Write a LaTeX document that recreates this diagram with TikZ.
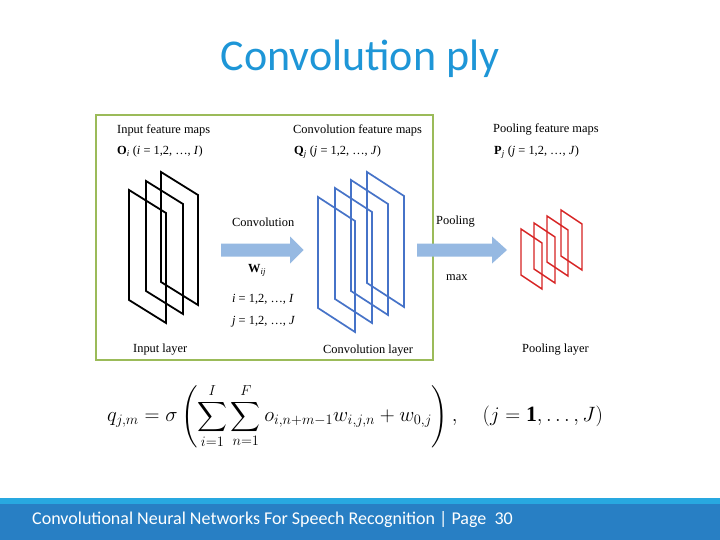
\documentclass[tikz,border=0pt]{standalone}
\usepackage{fontspec}
\usepackage{amsmath}
\setmainfont{Liberation Serif}
\newfontfamily\calib{Carlito}
\definecolor{titleblue}{RGB}{30,150,215}
\definecolor{boxgreen}{RGB}{155,187,89}
\definecolor{arrowblue}{RGB}{150,185,226}
\definecolor{framblue}{RGB}{70,115,200}
\definecolor{framred}{RGB}{215,35,35}
\definecolor{footlight}{RGB}{40,168,224}
\definecolor{footdark}{RGB}{40,127,196}
\tikzset{
  lbl/.style={anchor=west, inner sep=0pt, font=\fontsize{12.4}{14}\selectfont},
  blockarrow/.style={fill=arrowblue, draw=none},
  blackframe/.style={draw=black, line width=1.8pt, line join=miter},
  blueframe/.style={draw=framblue, line width=1.7pt, line join=miter},
  redframe/.style={draw=framred, line width=1.4pt, line join=miter},
}
\newcommand{\frm}[6]{% x y w slant h style
  \draw[#6] (#1,#2) -- ++(#3,#4) -- ++(0,#5) -- ++(-#3,-#4) -- cycle;}
\begin{document}
\begin{tikzpicture}[x=1pt,y=-1pt]
\useasboundingbox (0,0) rectangle (720,540);
\fill[white] (0,0) rectangle (720,540);
% title
\node[font=\calib\fontsize{44}{48}\selectfont, text=titleblue] (title) at (360,59) {Convolution ply};
% green box
\draw[boxgreen, line width=2.6pt] (96,115) rectangle (433,360);
% black frames
\frm{161}{172}{37}{23}{110}{blackframe}
\frm{146}{181}{37}{23}{110}{blackframe}
\frm{129}{190}{37}{23}{110}{blackframe}
% blue frames
\frm{367}{172}{37}{24}{111}{blueframe}
\frm{351}{180}{37}{24}{111}{blueframe}
\frm{335}{188}{37}{24}{111}{blueframe}
\frm{318}{197}{37}{24}{111}{blueframe}
% red frames
\frm{561}{210}{21}{14}{46}{redframe}
\frm{547}{216}{21}{14}{46}{redframe}
\frm{534}{223}{21}{14}{46}{redframe}
\frm{521}{229}{21}{14}{46}{redframe}
% block arrows
\fill[blockarrow] (221,243.5) -- (290,243.5) -- (290,236.5) -- (303.5,250) -- (290,263.5) -- (290,256.5) -- (221,256.5) -- cycle;
\fill[blockarrow] (417,243.5) -- (492,243.5) -- (492,236.5) -- (507,250) -- (492,263.5) -- (492,256.5) -- (417,256.5) -- cycle;
% labels
\node[lbl] (inmaps) at (117,130) {Input feature maps};
\node[lbl] (inidx) at (117,152) {\textbf{O}\textsubscript{\textit{i}} (\textit{i} = 1,2, …, \textit{I})};
\node[lbl] (cvmaps) at (293,130) {Convolution feature maps};
\node[lbl] (cvidx) at (294,152) {\textbf{Q}\textsubscript{\textit{j}} (\textit{j} = 1,2, …, \textit{J})};
\node[lbl] (plmaps) at (493,129) {Pooling feature maps};
\node[lbl] (plidx) at (494,152) {\textbf{P}\textsubscript{\textit{j}} (\textit{j} = 1,2, …, \textit{J})};
\node[lbl] (conv) at (232,222) {Convolution};
\node[lbl] (wij) at (248,270) {\textbf{W}\textsubscript{\textit{ij}}};
\node[lbl] (irange) at (232,299) {\textit{i} = 1,2, …, \textit{I}};
\node[lbl] (jrange) at (232,322) {\textit{j} = 1,2, …, \textit{J}};
\node[lbl] (inlayer) at (133,350) {Input layer};
\node[lbl] (cvlayer) at (323,351) {Convolution layer};
\node[lbl] (pool) at (436,222) {Pooling};
\node[lbl] (max) at (446,278) {max};
\node[lbl] (pllayer) at (522,350) {Pooling layer};
% equation
\node[anchor=west, inner sep=0pt, font=\fontsize{21.8}{24}\selectfont] (eq) at (107,416)
  {$\displaystyle q_{j,m} = \sigma\left(\sum_{i=1}^{I}\sum_{n=1}^{F} o_{i,n+m-1}w_{i,j,n} + w_{0,j}\right),\quad (j=\mathbf{1},\ldots,J)$};
% footer
\fill[footdark] (0,503) rectangle (720,540);
\fill[footlight] (0,498) rectangle (720,503.5);
\node[anchor=west, inner sep=0pt, text=white, font=\calib\fontsize{18}{21}\selectfont] (foot) at (32,520) {Convolutional Neural Networks For Speech Recognition | Page\ \ 30};
\end{tikzpicture}
\end{document}
